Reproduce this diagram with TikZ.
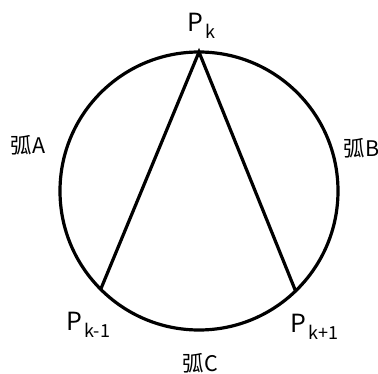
\documentclass[tikz,border=0pt]{standalone}
\usepackage{fontspec}
\setmainfont{Noto Sans CJK SC}
\usepackage{tikz}
\usetikzlibrary{calc}
\tikzset{every node/.append style={inner sep=0pt}}
\tikzset{
  ptlabel/.style={anchor=base west, font=\fontsize{25}{30}\selectfont},
  arclabel/.style={anchor=base west, font=\fontsize{21.5}{26}\selectfont}
}
% point name with lowered index
\newcommand{\ptname}[1]{P\kern2.5pt\raisebox{-7pt}{\fontsize{18}{18}\selectfont #1}}

\begin{document}
\begin{tikzpicture}[x=1pt, y=1pt, line width=3.2pt]
  \useasboundingbox (0,0) rectangle (378,373);

  % Circle
  \coordinate (o) at (199,182);
  \draw (o) circle (139pt);

  % Points on the circle
  \coordinate (pk) at ($(o)+(90:139pt)$);
  \coordinate (pkm) at ($(o)+(225:139pt)$);
  \coordinate (pkp) at ($(o)+(314:139pt)$);

  % Chords
  \draw (pkm) -- (pk) -- (pkp);

  % Point labels
  \node[ptlabel] (lpk) at (186,341) {\ptname{k}};
  \node[ptlabel] (lpkm) at (65,43) {\ptname{k-1}};
  \node[ptlabel] (lpkp) at (289,41) {\ptname{k+1}};

  % Arc labels
  \node[arclabel] (arca) at (9,219) {弧A};
  \node[arclabel] (arcb) at (342,216) {弧B};
  \node[arclabel] (arcc) at (181,2) {弧C};
\end{tikzpicture}
\end{document}
